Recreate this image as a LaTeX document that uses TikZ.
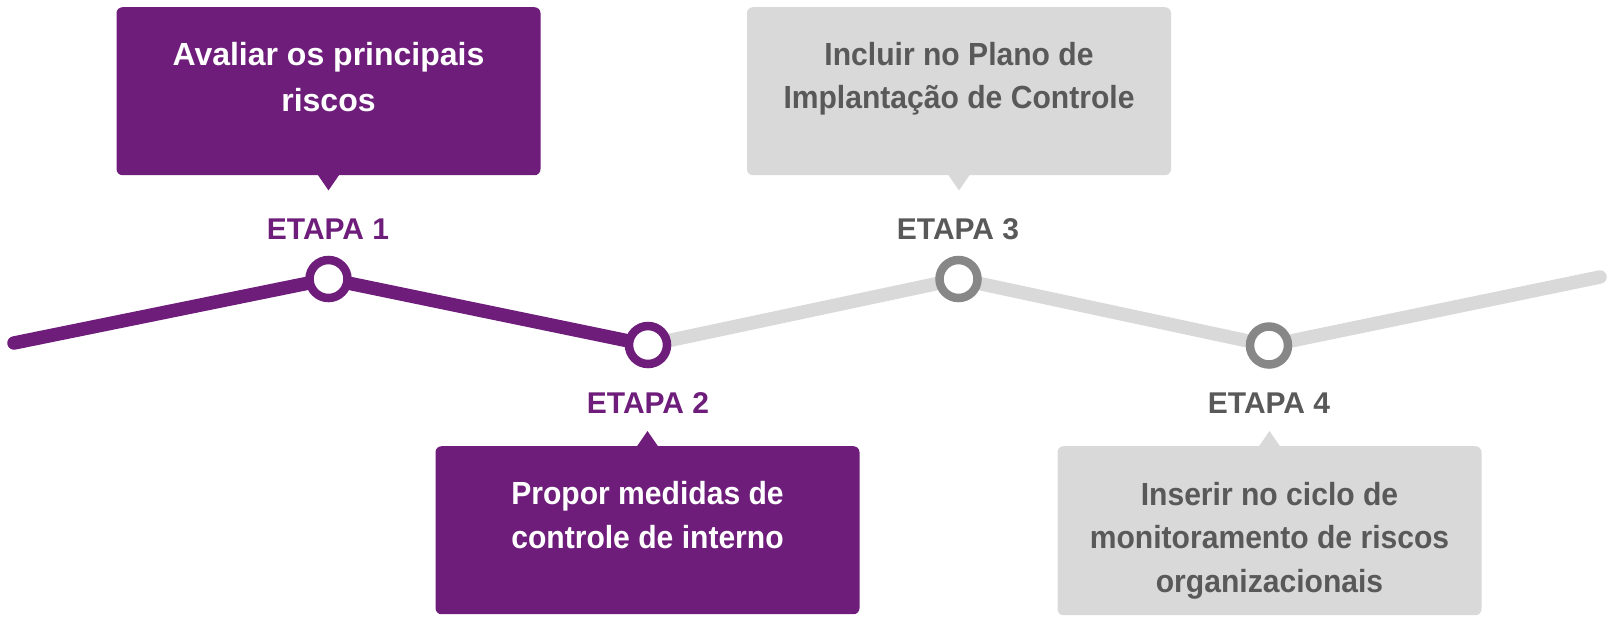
\documentclass[tikz,border=0pt]{standalone}
\usepackage{fontspec}
\setmainfont{Liberation Sans}
\newfontfamily\narrowf[FakeStretch=0.94]{Liberation Sans}
\definecolor{purp}{RGB}{110,29,123}
\definecolor{lgray}{RGB}{217,217,217}
\definecolor{dgray}{RGB}{89,89,89}
\definecolor{rgray}{RGB}{135,135,135}
\begin{document}
\begin{tikzpicture}[x=1pt,y=-1pt,
 box/.style={rectangle, rounded corners=6pt, minimum width=424pt, minimum height=168pt, inner sep=0pt, anchor=north},
 txt/.style={align=center, anchor=base, inner sep=0pt},
 lab/.style={font=\fontsize{30}{36}\selectfont\bfseries, anchor=base, inner sep=0pt},
 ring/.style={circle, draw, line width=8.5pt, fill=white, minimum size=38pt, inner sep=0pt},
 seg/.style={line width=13.5pt, line cap=round, line join=round},
]
\useasboundingbox (0,0) rectangle (1614,616);
% timeline points
\coordinate (s) at (14,343);
\coordinate (p1) at (328.5,279);
\coordinate (p2) at (648,345);
\coordinate (p3) at (958.5,279);
\coordinate (p4) at (1269,345.5);
\coordinate (e) at (1600,277);
\draw[seg, lgray] (p2) -- (p3) -- (p4) -- (e);
\draw[seg, purp] (s) -- (p1) -- (p2);
\node[ring, draw=purp] (c1) at (p1) {};
\node[ring, draw=purp] (c2) at (p2) {};
\node[ring, draw=rgray] (c3) at (p3) {};
\node[ring, draw=rgray] (c4) at (p4) {};
% boxes
\node[box, fill=purp] (b1) at (328.5,7) {};
\node[box, fill=purp] (b2) at (647.5,446) {};
\node[box, fill=lgray] (b3) at (959,7) {};
\node[box, fill=lgray, minimum height=169pt] (b4) at (1269.5,446) {};
% pointers
\fill[purp] ([xshift=-11pt,yshift=1pt]b1.south) -- ([xshift=11pt,yshift=1pt]b1.south) -- ([yshift=-15pt]b1.south) -- cycle;
\fill[lgray] ([xshift=-11pt,yshift=1pt]b3.south) -- ([xshift=11pt,yshift=1pt]b3.south) -- ([yshift=-15pt]b3.south) -- cycle;
\fill[purp] ([xshift=-11pt,yshift=-1pt]b2.north) -- ([xshift=11pt,yshift=-1pt]b2.north) -- ([yshift=15pt]b2.north) -- cycle;
\fill[lgray] ([xshift=-11pt,yshift=-1pt]b4.north) -- ([xshift=11pt,yshift=-1pt]b4.north) -- ([yshift=15pt]b4.north) -- cycle;
% box texts (anchor = baseline of the last line)
\node[txt, text=white, font=\fontsize{32}{46}\selectfont\bfseries] (t1) at (328.5,111) {Avaliar os principais\\riscos};
\node[txt, text=white, font=\narrowf\fontsize{32}{43.5}\selectfont\bfseries] (t2) at (647.5,548) {Propor medidas de\\controle de interno};
\node[txt, text=dgray, font=\narrowf\fontsize{32}{43.5}\selectfont\bfseries] (t3) at (959,108.5) {Incluir no Plano de\\Implantação de Controle};
\node[txt, text=dgray, font=\narrowf\fontsize{32}{43.5}\selectfont\bfseries] (t4) at (1269.5,592) {Inserir no ciclo de\\monitoramento de riscos\\organizacionais};
% labels
\node[lab, text=purp] (l1) at (328,239) {ETAPA 1};
\node[lab, text=purp] (l2) at (648,413) {ETAPA 2};
\node[lab, text=dgray] (l3) at (958,239) {ETAPA 3};
\node[lab, text=dgray] (l4) at (1269,413) {ETAPA 4};
\end{tikzpicture}
\end{document}
